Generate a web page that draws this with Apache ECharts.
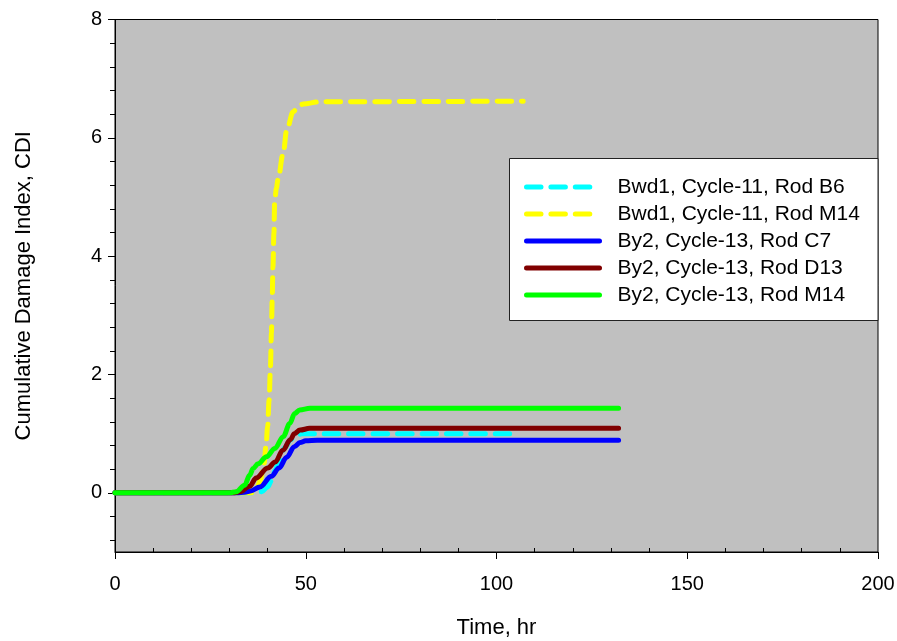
<!DOCTYPE html>
<html>
<head>
<meta charset="utf-8">
<script src="https://cdn.jsdelivr.net/npm/echarts@6/dist/echarts.min.js"></script>
<style>html,body{margin:0;padding:0;background:#fff;}#c{width:897px;height:641px;}</style>
</head>
<body>
<div id="c"></div>
<script>
// ---- data ----
const seriesNames = [
  'Bwd1, Cycle-11, Rod B6',
  'Bwd1, Cycle-11, Rod M14',
  'By2, Cycle-13, Rod C7',
  'By2, Cycle-13, Rod D13',
  'By2, Cycle-13, Rod M14'
];
const b6Time = [0, 37, 38.5, 40, 41, 42, 43, 44.5, 46, 47.5, 49, 52, 105];
const b6CDI  = [0, 0, 0.02, 0.1, 0.2, 0.38, 0.56, 0.76, 0.9, 0.97, 1.0, 1.0, 1.0];
const bwdM14Time = [0, 36, 37, 38, 39, 39.6, 40, 40.4, 40.75, 41, 41.2, 41.4, 41.66, 41.83, 42.3, 42.7, 44.1, 45, 46.7, 48, 49.3, 53.7, 107];
const bwdM14CDI  = [0, 0, 0.05, 0.2, 0.45, 0.8, 1.12, 1.57, 2.13, 2.7, 3.26, 3.82, 4.39, 4.89, 5.15, 5.29, 5.74, 6.13, 6.44, 6.53, 6.57, 6.61, 6.62];
const c7Time = [0, 32, 34, 35.5, 38, 41, 43, 45, 47, 48.5, 50, 53, 132];
const c7CDI  = [0, 0, 0.01, 0.03, 0.1, 0.28, 0.42, 0.6, 0.78, 0.85, 0.88, 0.89, 0.89];
const d13Time = [0, 31, 32.7, 35.3, 37, 40, 42, 44, 46, 47, 48.5, 51, 132];
const d13CDI  = [0, 0, 0.02, 0.11, 0.25, 0.42, 0.52, 0.72, 0.9, 1.0, 1.06, 1.09, 1.09];
const byM14Time = [0, 30, 31.8, 34, 35.3, 36.2, 37.5, 39.7, 41.9, 44.1, 45.8, 47.1, 48.4, 51.1, 132];
const byM14CDI  = [0, 0, 0.02, 0.13, 0.3, 0.41, 0.49, 0.61, 0.75, 0.95, 1.17, 1.34, 1.4, 1.43, 1.43];
const xMajorTicks = [0, 50, 100, 150, 200];
const xMinorTicks = [10, 20, 30, 40, 60, 70, 80, 90, 110, 120, 130, 140, 160, 170, 180, 190];
const yMajorTicks = [0, 2, 4, 6, 8];
const yMinorTicks = [-0.8, -0.4, 0.4, 0.8, 1.2, 1.6, 2.4, 2.8, 3.2, 3.6, 4.4, 4.8, 5.2, 5.6, 6.4, 6.8, 7.2, 7.6];

// ---- chart ----
const FONT = "'Liberation Sans', Arial, sans-serif";
const pairs = (xs, ys) => xs.map((x, i) => [x, ys[i]]);
const colors = ['#00ffff', '#ffff00', '#0000ff', '#800000', '#00ff00'];
const dataSets = [
  pairs(b6Time, b6CDI),
  pairs(bwdM14Time, bwdM14CDI),
  pairs(c7Time, c7CDI),
  pairs(d13Time, d13CDI),
  pairs(byM14Time, byM14CDI)
];
const dashed = [true, true, false, false, false];

const chart = echarts.init(document.getElementById('c'), null, {renderer: 'canvas'});
const option = {
  animation: false,
  backgroundColor: '#ffffff',
  textStyle: {fontFamily: FONT},
  grid: {
    left: 115, top: 19.5, right: 19, bottom: 89,
    outerBoundsMode: 'none', containLabel: false,
    show: true, backgroundColor: '#c0c0c0', borderColor: '#000', borderWidth: 1
  },
  graphic: [{
    type: 'rect', z: 10,
    shape: {x: 509.5, y: 158.5, width: 368.5, height: 162},
    style: {fill: '#ffffff', stroke: '#222', lineWidth: 1}
  }],
  legend: {
    z: 11,
    left: 524, top: 176.5,
    orient: 'vertical',
    itemWidth: 73, itemHeight: 14, itemGap: 6,
    padding: 0,
    itemStyle: {opacity: 0},
    lineStyle: {width: 5, cap: 'round', type: 'inherit'},
    textStyle: {fontFamily: FONT, fontSize: 21, color: '#000', lineHeight: 21, padding: [0, 0, 0, 13]},
    data: seriesNames
  },
  xAxis: [{
    type: 'value', min: 0, max: 200, interval: 50,
    name: 'Time, hr', nameLocation: 'middle', nameGap: 65,
    nameTextStyle: {fontFamily: FONT, fontSize: 22, color: '#000'},
    axisLine: {show: true, onZero: false, lineStyle: {color: '#000', width: 1}},
    axisTick: {show: true, inside: false, length: 7, lineStyle: {color: '#000'}, customValues: xMajorTicks},
    axisLabel: {fontFamily: FONT, fontSize: 20, color: '#000', margin: 22, customValues: xMajorTicks},
    splitLine: {show: false}
  }, {
    type: 'value', min: 0, max: 200, position: 'bottom',
    axisLine: {show: false, onZero: false},
    axisTick: {show: true, inside: true, length: 4, lineStyle: {color: '#000'}, customValues: xMinorTicks},
    axisLabel: {show: false},
    splitLine: {show: false}
  }],
  yAxis: [{
    type: 'value', min: -1, max: 8,
    name: 'Cumulative Damage Index, CDI', nameLocation: 'middle', nameGap: 80,
    nameTextStyle: {fontFamily: FONT, fontSize: 22, color: '#000'},
    axisLine: {show: true, onZero: false, lineStyle: {color: '#000', width: 1}},
    axisTick: {show: true, inside: false, length: 7, lineStyle: {color: '#000'}, customValues: yMajorTicks},
    axisLabel: {fontFamily: FONT, fontSize: 20, color: '#000', margin: 13, customValues: yMajorTicks},
    splitLine: {show: false}
  }, {
    type: 'value', min: -1, max: 8, position: 'left',
    axisLine: {show: false, onZero: false},
    axisTick: {show: true, inside: false, length: 5, lineStyle: {color: '#000'}, customValues: yMinorTicks},
    axisLabel: {show: false},
    splitLine: {show: false}
  }],
  series: seriesNames.map((name, i) => ({
    name: name,
    type: 'line',
    xAxisIndex: 0, yAxisIndex: 0,
    data: dataSets[i],
    showSymbol: false, symbol: 'none',
    smooth: 0.35, smoothMonotone: 'x',
    color: colors[i],
    lineStyle: {
      color: colors[i], width: 5, cap: 'round', join: 'round',
      type: dashed[i] ? [14.5, 9.9] : 'solid'
    },
    z: 2 + i
  }))
};
chart.setOption(option);
</script>
</body>
</html>
